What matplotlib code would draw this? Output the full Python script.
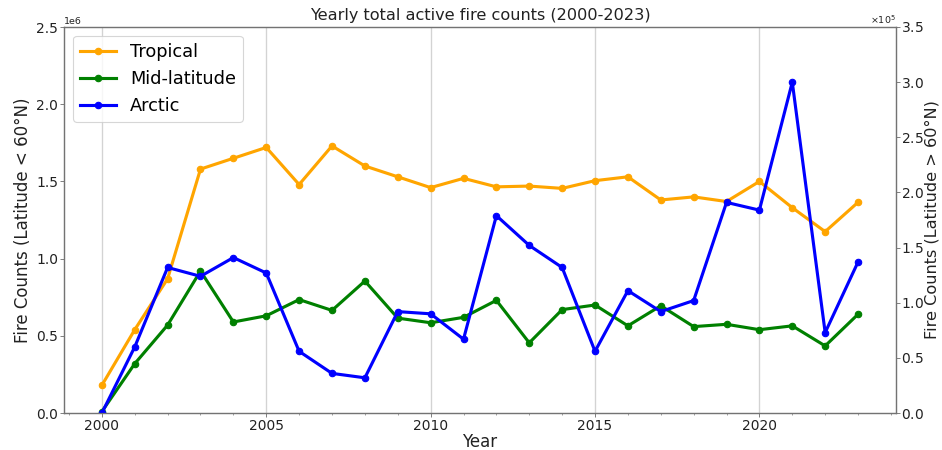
import matplotlib
matplotlib.use("Agg")
import matplotlib.pyplot as plt
from matplotlib.ticker import ScalarFormatter, MultipleLocator

years = list(range(2000, 2024))
tropical = [0.18, 0.54, 0.87, 1.58, 1.65, 1.72, 1.48, 1.73, 1.60, 1.53, 1.46, 1.52,
            1.465, 1.47, 1.455, 1.505, 1.53, 1.38, 1.40, 1.37, 1.50, 1.33, 1.175, 1.365]
midlat = [0.01, 0.32, 0.57, 0.92, 0.59, 0.63, 0.735, 0.665, 0.855, 0.615, 0.585, 0.62,
          0.73, 0.455, 0.67, 0.70, 0.565, 0.695, 0.56, 0.575, 0.54, 0.565, 0.435, 0.64]
arctic = [0.0, 0.60, 1.32, 1.24, 1.41, 1.27, 0.56, 0.36, 0.32, 0.92, 0.90, 0.67,
          1.79, 1.52, 1.32, 0.56, 1.11, 0.92, 1.02, 1.91, 1.84, 3.00, 0.73, 1.37]
tropical = [v * 1e6 for v in tropical]
midlat = [v * 1e6 for v in midlat]
arctic = [v * 1e5 for v in arctic]

DPI = 80
fig, ax = plt.subplots(figsize=(942 / DPI, 450 / DPI), dpi=DPI)
kw = dict(marker="o", markersize=5.8, linewidth=2.8)
l1, = ax.plot(years, tropical, color="orange", label="Tropical", **kw)
l2, = ax.plot(years, midlat, color="green", label="Mid-latitude", **kw)
ax2 = ax.twinx()
l3, = ax2.plot(years, arctic, color="blue", label="Arctic", **kw)

ax.set_ylim(0, 2.5e6)
ax2.set_ylim(0, 3.5e5)
ax.xaxis.set_minor_locator(MultipleLocator(1))
ax.grid(True, axis="x", color="lightgray", linewidth=1.2)
ax.set_axisbelow(True)

spine_c = "0.45"
for a in (ax, ax2):
    for s in a.spines.values():
        s.set_color(spine_c)
        s.set_linewidth(1.1)
    a.tick_params(which="both", color=spine_c, labelsize=12.5, labelcolor="#222222")
ax.tick_params(axis="x", which="major", pad=1.5)
ax.tick_params(axis="y", pad=2)
ax2.tick_params(axis="y", pad=1.5)

fmt = ScalarFormatter(useMathText=True)
fmt.set_powerlimits((0, 0))
ax2.yaxis.set_major_formatter(fmt)
ax2.yaxis.get_offset_text().set_fontsize(8.5)
ax.yaxis.get_offset_text().set_fontsize(8.5)

ax.set_xlabel("Year", fontsize=15, labelpad=0, color="#222222")
ax.set_ylabel("Fire Counts (Latitude < 60°N)", fontsize=15, color="#222222")
ax2.set_ylabel("Fire Counts (Latitude > 60°N)", fontsize=14.5, labelpad=0, color="#222222")
ax.set_title("Yearly total active fire counts (2000-2023)", fontsize=14.5, pad=6, color="#222222")

ax.legend(handles=[l1, l2, l3], loc="upper left", fontsize=16)

fig.subplots_adjust(left=0.068, right=0.951, top=0.94, bottom=0.082)
fig.savefig("out.png", dpi=DPI)
